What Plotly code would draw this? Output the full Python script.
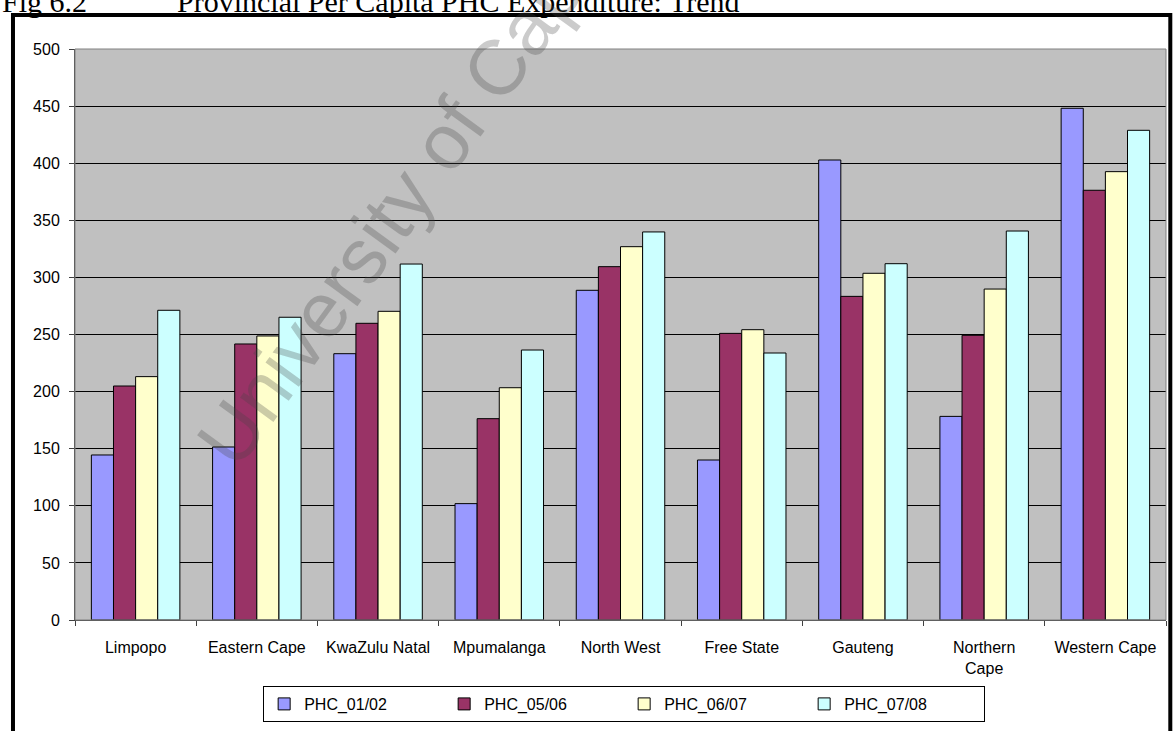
import plotly.graph_objects as go

# Provinces (category axis)
provinces = ["Limpopo", "Eastern Cape", "KwaZulu Natal", "Mpumalanga", "North West",
             "Free State", "Gauteng", "Northern<br>Cape", "Western Cape"]

# Per capita PHC expenditure by financial year
phc_01_02 = [144.5, 151.5, 233.2, 101.9, 288.7, 140.1, 402.8, 178.3, 448.1]
phc_05_06 = [204.9, 241.7, 259.8, 176.3, 309.4, 251.0, 283.4, 249.3, 376.3]
phc_06_07 = [213.1, 248.7, 270.3, 203.4, 326.9, 254.2, 303.6, 289.8, 392.6]
phc_07_08 = [271.2, 265.1, 311.7, 236.4, 339.8, 233.8, 312.0, 340.6, 428.8]

series = [
    ("PHC_01/02", phc_01_02, "#9999FF"),
    ("PHC_05/06", phc_05_06, "#993366"),
    ("PHC_06/07", phc_06_07, "#FFFFCC"),
    ("PHC_07/08", phc_07_08, "#CCFFFF"),
]

W, H = 1174, 731
L, R, T, B = 75, 1165.7, 49, 620


def px(x):
    return (x - L) / (R - L)


def py(y):
    return (B - y) / (B - T)


fig = go.Figure()
for name, vals, col in series:
    fig.add_trace(go.Bar(
        x=provinces, y=vals, name=name,
        marker=dict(color=col, line=dict(color="black", width=1)),
    ))

font = "Liberation Sans, Arial, sans-serif"

fig.update_layout(
    width=W, height=H,
    margin=dict(l=L, r=W - R, t=T, b=H - B, pad=0),
    paper_bgcolor="white",
    plot_bgcolor="#C0C0C0",
    barmode="group", bargap=0.27, bargroupgap=0,
    font=dict(family=font, size=16, color="black"),
    showlegend=True,
    legend=dict(
        orientation="h", x=px(624), xanchor="center", y=py(686), yanchor="top",
        bordercolor="black", borderwidth=1, bgcolor="white",
        font=dict(size=16), entrywidth=135, entrywidthmode="pixels",
        itemwidth=30, tracegroupgap=0,
    ),
    xaxis=dict(
        type="category", tickson="boundaries", ticks="outside", ticklen=5,
        tickcolor="#404040", showline=True, linecolor="#404040", linewidth=1,
        showgrid=False, ticklabelstandoff=13, tickfont=dict(size=16),
    ),
    yaxis=dict(
        range=[0, 500], dtick=50, ticks="outside", ticklen=5, tickcolor="#404040",
        showline=True, linecolor="#404040", linewidth=1,
        showgrid=True, gridcolor="black", gridwidth=1, zeroline=False,
        ticklabelstandoff=6, tickfont=dict(size=16),
    ),
    shapes=[
        # plot-area frame
        dict(type="rect", xref="paper", yref="paper", x0=0, x1=1, y0=0, y1=1,
             line=dict(color="#808080", width=1), layer="above"),
        # outer page frame
        dict(type="rect", xref="paper", yref="paper",
             x0=px(13), x1=px(1170), y0=py(770), y1=py(15),
             line=dict(color="black", width=4), layer="above"),
    ],
    annotations=[
        dict(text="Fig 6.2", xref="paper", yref="paper", x=px(0), y=py(20),
             xanchor="left", yanchor="bottom", showarrow=False,
             font=dict(family="Liberation Serif, Times New Roman, serif", size=30)),
        dict(text="Provincial Per Capita PHC Expenditure: Trend", xref="paper", yref="paper",
             x=px(175), y=py(20), xanchor="left", yanchor="bottom", showarrow=False,
             font=dict(family="Liberation Serif, Times New Roman, serif", size=30)),
        dict(text="University of Cape Town", xref="paper", yref="paper",
             x=px(462), y=py(116), xanchor="center", yanchor="middle", showarrow=False,
             textangle=-54,
             font=dict(family=font, size=78, color="rgba(70,70,70,0.28)")),
    ],
)

fig.write_html("out.html")
